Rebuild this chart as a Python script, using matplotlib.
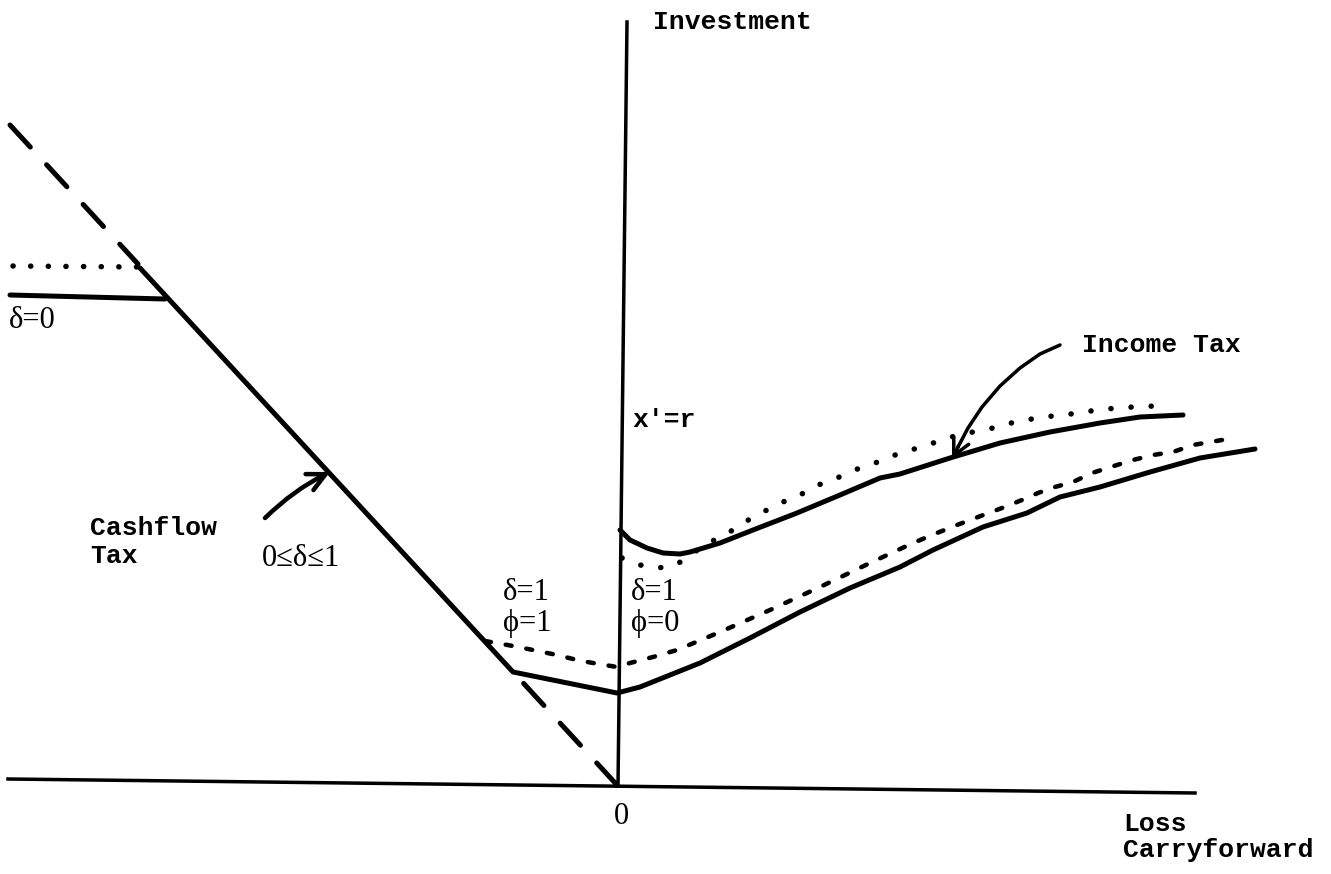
import matplotlib
matplotlib.use("Agg")
import matplotlib.pyplot as plt
import numpy as np

plt.rcParams['lines.scale_dashes'] = False

# ---- data (drawing units: left->right, top->bottom of the page) ----
# axes
h_axis_x = [8, 1195]
h_axis_y = [779, 793]
v_axis_x = [627, 618]
v_axis_y = [22, 786]

# 45-degree dashed reference line (visible parts above and below the schedule)
diag_upper_x = [10, 138]
diag_upper_y = [125, 264]
diag_lower_x = [617, 515]
diag_lower_y = [785, 674]

# cashflow tax: delta=0 (solid) and the phi variant (dotted)
flat_solid_x = [10, 165]
flat_solid_y = [295, 299]
flat_dot_x = [13, 140]
flat_dot_y = [266, 267]

# main solid schedule (0<delta<1 segment, kink, delta=1 phi=0 lower curve)
main_x = [140, 513, 617, 640, 660, 700, 750, 800, 850, 900, 933, 983, 1027, 1060, 1100, 1150, 1200, 1255]
main_y = [268, 672, 693, 687, 679, 663, 638, 612, 588, 567, 550, 527, 513, 497, 487, 472, 458, 449]

# delta=1 phi=1 dashed curve
dash_x = [485, 513, 533, 557, 577, 593, 617, 630, 653, 677, 720, 770, 820, 870, 913, 937, 957, 978,
          1002, 1022, 1038, 1055, 1073, 1092, 1117, 1133, 1153, 1173, 1193, 1222]
dash_y = [641, 646, 650, 655, 660, 663, 667, 663, 657, 650, 632, 610, 587, 563, 543, 533, 525, 517,
          508, 500, 493, 487, 482, 473, 465, 460, 455, 452, 445, 440]

# income tax x'=r solid curve
inc_x = [620, 630, 647, 663, 680, 690, 720, 753, 797, 840, 880, 900, 950, 1000, 1050, 1100, 1140, 1183]
inc_y = [530, 540, 548, 553, 554, 552, 543, 530, 513, 495, 478, 474, 458, 443, 432, 423, 417, 415]

# income tax dotted curve
incd_x = [622, 640, 658, 676, 690, 705, 720, 733, 753, 767, 780, 797, 813, 837, 862, 878, 900, 925,
          947, 968, 993, 1015, 1043, 1063, 1078, 1097, 1117, 1133, 1155]
incd_y = [558, 565, 568, 565, 555, 545, 537, 530, 517, 510, 503, 497, 487, 478, 467, 462, 453, 446,
          438, 433, 428, 422, 417, 415, 413, 410, 408, 407, 406]

# annotation pointer (Income Tax)
ptr_x = [1060, 1040, 1020, 1000, 982, 968, 958]
ptr_y = [345, 354, 368, 386, 407, 428, 447]

# ---- figure ----
W, H = 1331, 874
fig = plt.figure(figsize=(W / 100, H / 100), dpi=100)
ax = fig.add_axes([0, 0, 1, 1])
ax.set_xlim(0, W)
ax.set_ylim(H, 0)
ax.axis('off')

k = 0.72  # px -> pt
solid = dict(color='black', lw=5 * k, solid_capstyle='round', solid_joinstyle='round')

ax.plot(h_axis_x, h_axis_y, color='black', lw=3.5 * k)
ax.plot(v_axis_x, v_axis_y, color='black', lw=3.5 * k)

diag_style = dict(color='black', lw=5 * k, linestyle=(0, (30 * k, 24 * k)), dash_capstyle='round')
ax.plot(diag_upper_x, diag_upper_y, **diag_style)
ax.plot(diag_lower_x, diag_lower_y, **diag_style)

ax.plot(flat_solid_x, flat_solid_y, **solid)
ax.plot(flat_dot_x, flat_dot_y, color='black', lw=5.5 * k, linestyle=(0, (0.1, 17.5 * k)), dash_capstyle='round')

ax.plot(main_x, main_y, **solid)
ax.plot(dash_x, dash_y, color='black', lw=4.5 * k, linestyle=(0, (6 * k, 15 * k)), dash_capstyle='round')
ax.plot(inc_x, inc_y, **solid)
ax.plot(incd_x, incd_y, color='black', lw=5.5 * k, linestyle=(0, (0.1, 20 * k)), dash_capstyle='round')

# pointers
ax.plot(ptr_x, ptr_y, color='black', lw=3.5 * k, solid_capstyle='round')
ax.annotate('', xy=(952, 459), xytext=(ptr_x[-1], ptr_y[-1]),
            arrowprops=dict(arrowstyle='->', lw=3.5 * k, color='black', mutation_scale=30,
                            shrinkA=0, shrinkB=0))
ax.annotate('', xy=(330, 472), xytext=(265, 518),
            arrowprops=dict(arrowstyle='->', lw=4.5 * k, color='black', mutation_scale=32,
                            shrinkA=0, shrinkB=0, connectionstyle='arc3,rad=-0.08'))

mono = dict(family='Liberation Mono', fontsize=19, color='black', weight='bold')
serif = dict(family='Liberation Serif', fontsize=22, color='black')

ax.text(653, 22, 'Investment', ha='left', va='center', **mono)
ax.text(632, 420, "x'=r", ha='left', va='center', **mono)
ax.text(1082, 345, 'Income Tax', ha='left', va='center', **mono)
ax.text(90, 528, 'Cashflow', ha='left', va='center', **mono)
ax.text(90, 556, 'Tax', ha='left', va='center', **mono)
ax.text(1123, 824, 'Loss', ha='left', va='center', **mono)
ax.text(1123, 850, 'Carryforward', ha='left', va='center', **mono)

ax.text(262, 559, '0≤δ≤1', ha='left', va='center', **serif)
ax.text(9, 320, 'δ=0', ha='left', va='center', **serif)
ax.text(503, 593, 'δ=1', ha='left', va='center', **serif)
ax.text(503, 624, 'ϕ=1', ha='left', va='center', **serif)
ax.text(631, 593, 'δ=1', ha='left', va='center', **serif)
ax.text(631, 624, 'ϕ=0', ha='left', va='center', **serif)
ax.text(621, 816, '0', ha='center', va='center', **serif)

fig.savefig('out.png', dpi=100)
